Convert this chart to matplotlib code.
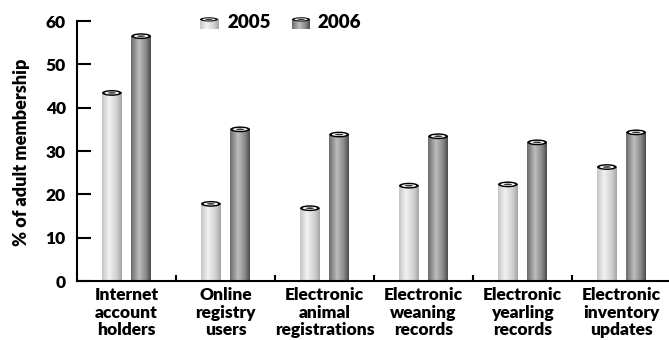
import numpy as np
import matplotlib.pyplot as plt
from matplotlib.patches import Ellipse
from matplotlib.colors import LinearSegmentedColormap

categories = ['Internet\naccount\nholders', 'Online\nregistry\nusers',
              'Electronic\nanimal\nregistrations', 'Electronic\nweaning\nrecords',
              'Electronic\nyearling\nrecords', 'Electronic\ninventory\nupdates']
years = ['2005', '2006']
vals2005 = [43.4, 17.8, 16.8, 22.0, 22.3, 26.3]
vals2006 = [56.5, 35.0, 33.8, 33.4, 32.0, 34.3]

plt.rcParams['font.family'] = ['Lato', 'DejaVu Sans']
plt.rcParams['font.weight'] = 'heavy'

# cylinder shading, left edge -> highlight -> dark right edge
lightMap = LinearSegmentedColormap.from_list(
    'light', [(0, '#c4c4c4'), (0.35, '#f2f2f2'), (0.75, '#cfcfcf'), (1, '#a4a4a4')])
darkMap = LinearSegmentedColormap.from_list(
    'dark', [(0, '#6a6a6a'), (0.4, '#bdbdbd'), (0.75, '#8a8a8a'), (1, '#4a4a4a')])

grad = np.linspace(0, 1, 128).reshape(1, -1)


def cylinder(ax, xc, width, top, cmap, cap, base=0):
    ax.imshow(grad, cmap=cmap, extent=[xc - width / 2, xc + width / 2, base, top],
              aspect='auto', zorder=2, interpolation='bilinear')
    ax.add_patch(Ellipse((xc, top), width, cap, fc='black', ec='none', zorder=3, clip_on=False))
    ax.add_patch(Ellipse((xc, top), width * 0.74, cap * 0.5, fc='white', ec='none', zorder=4, clip_on=False))
    ax.add_patch(Ellipse((xc, top), width * 0.42, cap * 0.28, fc='#333333', ec='none', zorder=5, clip_on=False))


fig = plt.figure(figsize=(6.69, 3.4), dpi=100)
ax = fig.add_axes([77 / 669, 59 / 340, 594 / 669, 260 / 340])

barWidth = 0.2
offset = 0.148
x = np.arange(len(categories))
for i in range(len(categories)):
    cylinder(ax, x[i] - offset, barWidth, vals2005[i], lightMap, 1.35)
    cylinder(ax, x[i] + offset, barWidth, vals2006[i], darkMap, 1.35)

ax.set_xlim(-0.5, len(categories) - 0.5)
ax.set_ylim(0, 60)
ax.set_yticks(range(0, 61, 10))
ax.tick_params(axis='y', direction='in', length=10, width=1.5, labelsize=12.5, pad=8)
ax.set_xticks(x)
ax.set_xticklabels(categories, fontsize=12.5, linespacing=1.15)
ax.tick_params(axis='x', length=0, pad=4)
ax.set_xticks(x[:-1] + 0.5, minor=True)
ax.tick_params(axis='x', which='minor', direction='in', length=4.5, width=1.5)

for side in ['top', 'right']:
    ax.spines[side].set_visible(False)
for side in ['left', 'bottom']:
    ax.spines[side].set_linewidth(1.5)

fig.text(22 / 669, 1 - 152 / 340, '% of adult membership', rotation=90,
         ha='center', va='center', fontsize=13)

# legend with small cylinder icons
for name, cmap, ix, tx in [(years[0], lightMap, 200, 228), (years[1], darkMap, 292, 318)]:
    iconAx = fig.add_axes([ix / 669, 1 - 29 / 340, 18 / 669, 12 / 340])
    iconAx.set_xlim(0, 1)
    iconAx.set_ylim(0, 1)
    iconAx.axis('off')
    cylinder(iconAx, 0.5, 1.0, 0.8, cmap, 0.35)
    fig.text(tx / 669, 1 - 23 / 340, name, ha='left', va='center', fontsize=13.5)

fig.savefig('out.png', dpi=100)
